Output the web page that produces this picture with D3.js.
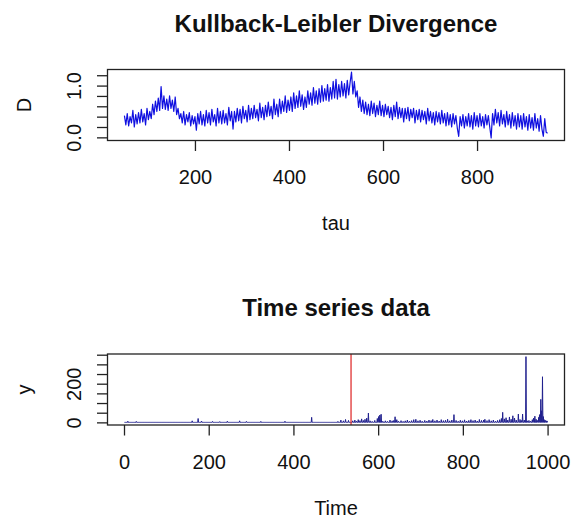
<!DOCTYPE html>
<html>
<head>
<meta charset="utf-8">
<script src="https://cdn.jsdelivr.net/npm/d3@7/dist/d3.min.js"></script>
<style>
  body { margin: 0; background: #fff; }
  svg { display: block; font-family: "Liberation Sans", Arial, sans-serif; }
  .tick line { stroke: #222; }
  .tick text { fill: #111; font-size: 20px; }
</style>
</head>
<body>
<script>
// ---- data ----
// Kullback-Leibler divergence, tau = 50, 53, ..., 950
let tauStart = 50, tauStep = 3;
let klValues = [
  0.42, 0.24, 0.46, 0.22, 0.40, 0.28, 0.52, 0.20, 0.44, 0.26,
  0.48, 0.28, 0.54, 0.30, 0.46, 0.24, 0.56, 0.34, 0.50, 0.36,
  0.64, 0.44, 0.70, 0.50, 0.76, 0.52, 0.98, 0.56, 0.80, 0.54,
  0.74, 0.52, 0.80, 0.56, 0.72, 0.50, 0.78, 0.44, 0.56, 0.36,
  0.46, 0.28, 0.50, 0.24, 0.44, 0.30, 0.48, 0.22, 0.42, 0.26,
  0.40, 0.14, 0.46, 0.26, 0.50, 0.24, 0.44, 0.22, 0.52, 0.28,
  0.48, 0.24, 0.54, 0.30, 0.44, 0.22, 0.56, 0.28, 0.50, 0.26,
  0.52, 0.28, 0.46, 0.24, 0.58, 0.32, 0.50, 0.16, 0.50, 0.30,
  0.56, 0.32, 0.54, 0.28, 0.60, 0.36, 0.52, 0.30, 0.62, 0.34,
  0.56, 0.36, 0.62, 0.38, 0.54, 0.32, 0.66, 0.38, 0.58, 0.34,
  0.62, 0.40, 0.68, 0.42, 0.60, 0.36, 0.74, 0.44, 0.64, 0.40,
  0.74, 0.46, 0.70, 0.50, 0.80, 0.48, 0.72, 0.52, 0.78, 0.50,
  0.86, 0.56, 0.80, 0.58, 0.90, 0.60, 0.82, 0.54, 0.78, 0.58,
  0.90, 0.64, 0.86, 0.62, 0.96, 0.66, 0.90, 0.64, 0.94, 0.68,
  1.00, 0.70, 0.94, 0.72, 1.02, 0.70, 0.96, 0.74, 1.08, 0.76,
  1.12, 0.74, 1.02, 0.78, 1.08, 0.80, 1.04, 0.76, 1.10, 0.82,
  1.06, 1.26, 0.84, 1.08, 0.78, 0.90, 0.58, 0.78, 0.50, 0.72,
  0.46, 0.68, 0.44, 0.64, 0.42, 0.70, 0.46, 0.66, 0.40, 0.62,
  0.44, 0.70, 0.42, 0.62, 0.40, 0.64, 0.44, 0.60, 0.38, 0.58,
  0.34, 0.62, 0.40, 0.68, 0.36, 0.58, 0.38, 0.56, 0.30, 0.56,
  0.36, 0.58, 0.32, 0.54, 0.38, 0.56, 0.28, 0.52, 0.34, 0.54,
  0.30, 0.52, 0.34, 0.50, 0.26, 0.56, 0.32, 0.50, 0.28, 0.48,
  0.24, 0.50, 0.30, 0.48, 0.26, 0.52, 0.28, 0.46, 0.22, 0.48,
  0.24, 0.44, 0.20, 0.46, 0.26, 0.42, 0.18, 0.02, 0.40, 0.22,
  0.44, 0.18, 0.40, 0.22, 0.46, 0.20, 0.42, 0.16, 0.48, 0.22,
  0.42, 0.20, 0.46, 0.22, 0.40, 0.18, 0.44, 0.24, 0.42, 0.20,
  -0.01, 0.46, 0.24, 0.54, 0.28, 0.48, 0.22, 0.52, 0.26, 0.44,
  0.20, 0.50, 0.24, 0.44, 0.18, 0.48, 0.22, 0.42, 0.16, 0.46,
  0.20, 0.42, 0.16, 0.46, 0.20, 0.40, 0.14, 0.44, 0.18, 0.38,
  0.14, 0.46, 0.18, 0.36, 0.12, 0.42, 0.16, 0.02, 0.36, 0.10,
  0.08
];
let klTicks = [0, 0.2, 0.4, 0.6, 0.8, 1.0, 1.2];
let klTickLabels = ["0.0", "", "", "", "", "1.0", ""];
let tauTicks = [200, 400, 600, 800];

// time series: 1..1000, flat near zero except these spikes [time, value]
let nTime = 1000;
let spikeTimes = [
  9, 29, 161, 175, 183, 209, 226, 244, 273, 289, 323, 380, 443,
  505, 512, 518, 523, 530,
  540, 545, 549, 553, 557, 561, 565, 569, 573, 577, 581, 586, 592, 598, 601, 604, 607,
  611, 617, 622, 628, 633, 637, 640, 644, 648, 654, 659, 664, 669, 674, 679, 684, 689,
  694, 699, 704, 710, 715, 720, 725, 729, 734, 739, 744, 749, 754, 759, 764, 769, 774,
  779, 784, 789, 794, 799, 804, 809, 814, 819, 824, 829, 834, 839, 844, 849, 852, 857,
  862, 867, 872, 877, 882, 887, 891, 894, 898, 902, 906, 910, 914, 918, 922, 926, 931,
  935, 938, 941, 945, 949, 952, 956, 960, 964, 967, 970, 973, 976, 979, 981, 984, 986,
  988, 990, 992, 995, 998, 1000
];
let spikeValues = [
  6, 5, 8, 20, 7, 5, 4, 6, 8, 5, 5, 6, 26,
  5, 12, 8, 15, 10,
  8, 12, 6, 14, 9, 18, 10, 16, 22, 48, 8, 5, 10, 20, 30, 38, 42,
  6, 8, 5, 12, 8, 10, 29, 14, 6, 9, 5, 8, 12, 6, 9, 14, 16,
  8, 11, 6, 10, 7, 12, 9, 15, 8, 12, 7, 14, 9, 11, 16, 8, 12,
  40, 10, 6, 11, 8, 13, 7, 10, 14, 9, 12, 7, 15, 10, 12, 16, 9,
  14, 8, 12, 6, 10, 14, 20, 52, 18, 24, 12, 28, 16, 34, 22, 12, 43,
  15, 10, 43, 12, 340, 8, 10, 6, 14, 22, 32, 16, 10, 26, 40, 119, 60,
  236, 30, 14, 10, 8, 6
];
let changePoint = 536;
let yTicks = [0, 50, 100, 150, 200, 250, 300, 350];
let yTickLabels = ["0", "", "", "", "200", "", "", ""];
let timeTicks = [0, 200, 400, 600, 800, 1000];

// ---- build series ----
let klData = klValues.map((v, i) => ({ x: tauStart + i * tauStep, y: v }));
let spikeMap = new Map(spikeTimes.map((t, i) => [t, spikeValues[i]]));
let tsData = d3.range(1, nTime + 1).map(t => ({ x: t, y: spikeMap.get(t) || 0 }));

// R style 4% axis extension
function rExtent(arr) {
  let e = d3.extent(arr);
  let pad = (e[1] - e[0]) * 0.04;
  return [e[0] - pad, e[1] + pad];
}

let width = 574, height = 519;
let svg = d3.select("body").append("svg")
  .attr("width", width)
  .attr("height", height);

svg.append("rect").attr("width", width).attr("height", height).attr("fill", "#fff");

let boxLeft = 107.5, boxRight = 564.5;

function panel(opts) {
  let x = d3.scaleLinear().domain(rExtent(opts.data.map(d => d.x))).range([boxLeft, boxRight]);
  let y = d3.scaleLinear().domain(rExtent(opts.data.map(d => d.y))).range([opts.bottom, opts.top]);
  let g = svg.append("g");

  // series line
  g.append("path")
    .datum(opts.data)
    .attr("fill", "none")
    .attr("stroke", opts.color)
    .attr("stroke-width", opts.lineWidth)
    .attr("stroke-linejoin", "round")
    .attr("d", d3.line().x(d => x(d.x)).y(d => y(d.y)));

  if (opts.vline != null) {
    g.append("line")
      .attr("x1", x(opts.vline)).attr("x2", x(opts.vline))
      .attr("y1", opts.top).attr("y2", opts.bottom)
      .attr("stroke", "#dd2222")
      .attr("stroke-width", 1.2);
  }

  // box
  g.append("rect")
    .attr("x", boxLeft).attr("y", opts.top)
    .attr("width", boxRight - boxLeft).attr("height", opts.bottom - opts.top)
    .attr("fill", "none")
    .attr("stroke", "#222")
    .attr("stroke-width", 1.3);

  // x axis
  let xa = g.append("g")
    .attr("transform", "translate(0," + opts.bottom + ")")
    .call(d3.axisBottom(x).tickValues(opts.xTicks).tickSize(10.5).tickFormat(d3.format("d")));
  xa.select(".domain").remove();
  xa.selectAll(".tick line").attr("stroke-width", 1.3);
  xa.selectAll(".tick text").attr("dy", 0).attr("y", 43.8);

  // y axis, rotated labels
  let ya = g.append("g")
    .attr("transform", "translate(" + boxLeft + ",0)")
    .call(d3.axisLeft(y).tickValues(opts.yTicks).tickSize(10.5).tickFormat((d, i) => opts.yLabels[i]));
  ya.select(".domain").remove();
  ya.selectAll(".tick line").attr("stroke-width", 1.3);
  ya.selectAll(".tick text")
    .attr("transform", "rotate(-90)")
    .attr("x", 0).attr("y", -27).attr("dy", 0)
    .attr("text-anchor", "middle");

  // title
  svg.append("text")
    .attr("x", (boxLeft + boxRight) / 2)
    .attr("y", opts.top - 37.8)
    .attr("text-anchor", "middle")
    .attr("font-size", 24)
    .attr("font-weight", "bold")
    .attr("fill", "#111")
    .text(opts.title);

  // x label
  svg.append("text")
    .attr("x", (boxLeft + boxRight) / 2)
    .attr("y", opts.bottom + 89.5)
    .attr("text-anchor", "middle")
    .attr("font-size", 20)
    .attr("fill", "#111")
    .text(opts.xLabel);

  // y label
  let cy = (opts.top + opts.bottom) / 2;
  svg.append("text")
    .attr("transform", "translate(31," + cy + ") rotate(-90)")
    .attr("text-anchor", "middle")
    .attr("font-size", 20)
    .attr("fill", "#111")
    .text(opts.yLabel);
}

panel({
  data: klData, top: 69.5, bottom: 140.5,
  color: "#1010e0", lineWidth: 1.2,
  xTicks: tauTicks, yTicks: klTicks, yLabels: klTickLabels,
  title: "Kullback-Leibler Divergence", xLabel: "tau", yLabel: "D"
});

panel({
  data: tsData, top: 354, bottom: 425,
  color: "#20208e", lineWidth: 1,
  vline: changePoint,
  xTicks: timeTicks, yTicks: yTicks, yLabels: yTickLabels,
  title: "Time series data", xLabel: "Time", yLabel: "y"
});
</script>
</body>
</html>
